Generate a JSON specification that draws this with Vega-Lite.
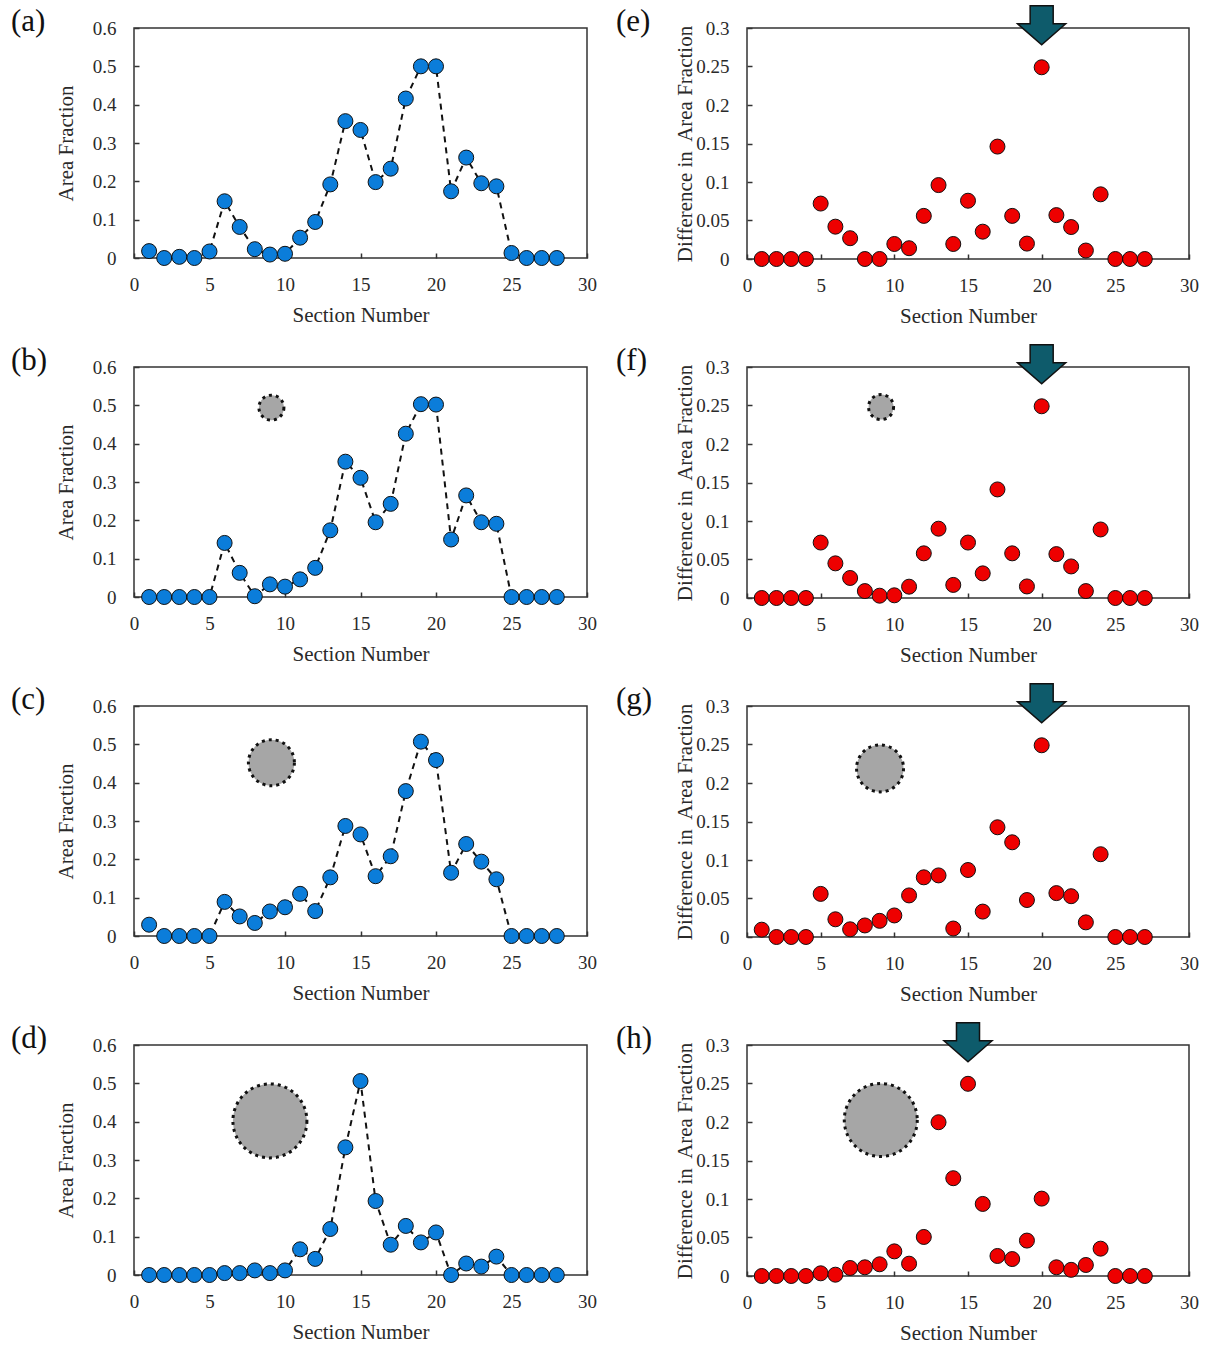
{
  "$schema": "https://vega.github.io/schema/vega-lite/v6.json",
  "padding": {"left": 10, "top": 2, "right": 0, "bottom": 0},
  "background": "white",
  "config": {
    "font": "Liberation Serif",
    "view": {"stroke": "#333", "strokeWidth": 1.5},
    "axis": {"domain": false, "grid": false, "labelFlush": false, "tickColor": "#333", "tickWidth": 1.5, "tickSize": -5, "labelFont": "Liberation Serif", "labelFontSize": 19, "labelColor": "#2a2a2a", "titleFont": "Liberation Serif", "titleFontSize": 21, "titleFontWeight": "normal", "titleColor": "#2a2a2a"},
    "axisX": {"labelPadding": 22, "titlePadding": 10},
    "axisY": {"labelPadding": 23},
    "title": {"font": "Liberation Serif", "fontSize": 31, "fontWeight": "normal", "color": "#111", "anchor": "start", "frame": "group", "baseline": "alphabetic", "offset": 0}
  },
  "datasets": {
    "a": [{"section":1,"fraction":0.018},{"section":2,"fraction":0},{"section":3,"fraction":0.003},{"section":4,"fraction":0},{"section":5,"fraction":0.017},{"section":6,"fraction":0.148},{"section":7,"fraction":0.081},{"section":8,"fraction":0.023},{"section":9,"fraction":0.009},{"section":10,"fraction":0.011},{"section":11,"fraction":0.053},{"section":12,"fraction":0.094},{"section":13,"fraction":0.192},{"section":14,"fraction":0.357},{"section":15,"fraction":0.334},{"section":16,"fraction":0.198},{"section":17,"fraction":0.233},{"section":18,"fraction":0.416},{"section":19,"fraction":0.5},{"section":20,"fraction":0.5},{"section":21,"fraction":0.174},{"section":22,"fraction":0.262},{"section":23,"fraction":0.195},{"section":24,"fraction":0.187},{"section":25,"fraction":0.013},{"section":26,"fraction":0},{"section":27,"fraction":0},{"section":28,"fraction":0}],
    "b": [{"section":1,"fraction":0},{"section":2,"fraction":0},{"section":3,"fraction":0},{"section":4,"fraction":0},{"section":5,"fraction":0},{"section":6,"fraction":0.141},{"section":7,"fraction":0.063},{"section":8,"fraction":0.002},{"section":9,"fraction":0.033},{"section":10,"fraction":0.027},{"section":11,"fraction":0.046},{"section":12,"fraction":0.076},{"section":13,"fraction":0.174},{"section":14,"fraction":0.353},{"section":15,"fraction":0.311},{"section":16,"fraction":0.195},{"section":17,"fraction":0.243},{"section":18,"fraction":0.426},{"section":19,"fraction":0.503},{"section":20,"fraction":0.502},{"section":21,"fraction":0.15},{"section":22,"fraction":0.265},{"section":23,"fraction":0.195},{"section":24,"fraction":0.191},{"section":25,"fraction":0},{"section":26,"fraction":0},{"section":27,"fraction":0},{"section":28,"fraction":0}],
    "c": [{"section":1,"fraction":0.0295},{"section":2,"fraction":0},{"section":3,"fraction":0},{"section":4,"fraction":0},{"section":5,"fraction":0},{"section":6,"fraction":0.089},{"section":7,"fraction":0.051},{"section":8,"fraction":0.034},{"section":9,"fraction":0.064},{"section":10,"fraction":0.075},{"section":11,"fraction":0.11},{"section":12,"fraction":0.065},{"section":13,"fraction":0.153},{"section":14,"fraction":0.287},{"section":15,"fraction":0.265},{"section":16,"fraction":0.156},{"section":17,"fraction":0.208},{"section":18,"fraction":0.378},{"section":19,"fraction":0.507},{"section":20,"fraction":0.459},{"section":21,"fraction":0.165},{"section":22,"fraction":0.24},{"section":23,"fraction":0.194},{"section":24,"fraction":0.148},{"section":25,"fraction":0},{"section":26,"fraction":0},{"section":27,"fraction":0},{"section":28,"fraction":0}],
    "d": [{"section":1,"fraction":0},{"section":2,"fraction":0},{"section":3,"fraction":0},{"section":4,"fraction":0},{"section":5,"fraction":0},{"section":6,"fraction":0.005},{"section":7,"fraction":0.005},{"section":8,"fraction":0.012},{"section":9,"fraction":0.005},{"section":10,"fraction":0.012},{"section":11,"fraction":0.067},{"section":12,"fraction":0.042},{"section":13,"fraction":0.12},{"section":14,"fraction":0.333},{"section":15,"fraction":0.506},{"section":16,"fraction":0.193},{"section":17,"fraction":0.079},{"section":18,"fraction":0.128},{"section":19,"fraction":0.085},{"section":20,"fraction":0.111},{"section":21,"fraction":0},{"section":22,"fraction":0.03},{"section":23,"fraction":0.022},{"section":24,"fraction":0.048},{"section":25,"fraction":0},{"section":26,"fraction":0},{"section":27,"fraction":0},{"section":28,"fraction":0}],
    "e": [{"section":1,"difference":0},{"section":2,"difference":0},{"section":3,"difference":0},{"section":4,"difference":0},{"section":5,"difference":0.072},{"section":6,"difference":0.042},{"section":7,"difference":0.027},{"section":8,"difference":0},{"section":9,"difference":0},{"section":10,"difference":0.0195},{"section":11,"difference":0.014},{"section":12,"difference":0.056},{"section":13,"difference":0.096},{"section":14,"difference":0.0195},{"section":15,"difference":0.0757},{"section":16,"difference":0.0355},{"section":17,"difference":0.146},{"section":18,"difference":0.056},{"section":19,"difference":0.02},{"section":20,"difference":0.249},{"section":21,"difference":0.057},{"section":22,"difference":0.0415},{"section":23,"difference":0.011},{"section":24,"difference":0.084},{"section":25,"difference":0},{"section":26,"difference":0},{"section":27,"difference":0}],
    "f": [{"section":1,"difference":0},{"section":2,"difference":0},{"section":3,"difference":0},{"section":4,"difference":0},{"section":5,"difference":0.072},{"section":6,"difference":0.045},{"section":7,"difference":0.026},{"section":8,"difference":0.009},{"section":9,"difference":0.003},{"section":10,"difference":0.0035},{"section":11,"difference":0.0147},{"section":12,"difference":0.058},{"section":13,"difference":0.09},{"section":14,"difference":0.017},{"section":15,"difference":0.072},{"section":16,"difference":0.032},{"section":17,"difference":0.141},{"section":18,"difference":0.058},{"section":19,"difference":0.015},{"section":20,"difference":0.249},{"section":21,"difference":0.057},{"section":22,"difference":0.041},{"section":23,"difference":0.009},{"section":24,"difference":0.089},{"section":25,"difference":0},{"section":26,"difference":0},{"section":27,"difference":0}],
    "g": [{"section":1,"difference":0.0095},{"section":2,"difference":0},{"section":3,"difference":0},{"section":4,"difference":0},{"section":5,"difference":0.056},{"section":6,"difference":0.023},{"section":7,"difference":0.01},{"section":8,"difference":0.015},{"section":9,"difference":0.021},{"section":10,"difference":0.028},{"section":11,"difference":0.054},{"section":12,"difference":0.0775},{"section":13,"difference":0.08},{"section":14,"difference":0.011},{"section":15,"difference":0.087},{"section":16,"difference":0.033},{"section":17,"difference":0.1425},{"section":18,"difference":0.123},{"section":19,"difference":0.048},{"section":20,"difference":0.249},{"section":21,"difference":0.057},{"section":22,"difference":0.053},{"section":23,"difference":0.019},{"section":24,"difference":0.1075},{"section":25,"difference":0},{"section":26,"difference":0},{"section":27,"difference":0}],
    "h": [{"section":1,"difference":0},{"section":2,"difference":0},{"section":3,"difference":0},{"section":4,"difference":0},{"section":5,"difference":0.0035},{"section":6,"difference":0.0017},{"section":7,"difference":0.0104},{"section":8,"difference":0.0113},{"section":9,"difference":0.0152},{"section":10,"difference":0.032},{"section":11,"difference":0.016},{"section":12,"difference":0.0507},{"section":13,"difference":0.1997},{"section":14,"difference":0.127},{"section":15,"difference":0.2496},{"section":16,"difference":0.0936},{"section":17,"difference":0.026},{"section":18,"difference":0.022},{"section":19,"difference":0.046},{"section":20,"difference":0.1005},{"section":21,"difference":0.0113},{"section":22,"difference":0.008},{"section":23,"difference":0.0143},{"section":24,"difference":0.0355},{"section":25,"difference":0},{"section":26,"difference":0},{"section":27,"difference":0}],
    "defects": [{"panel":"b","section":9.1,"value":0.494},{"panel":"c","section":9.1,"value":0.452},{"panel":"d","section":9.0,"value":0.402},{"panel":"f","section":9.1,"value":0.248},{"panel":"g","section":9.03,"value":0.219},{"panel":"h","section":9.08,"value":0.2026}],
    "arrows": [{"panel":"e","section":20,"value":0.3035},{"panel":"f","section":20,"value":0.3035},{"panel":"g","section":20,"value":0.3035},{"panel":"h","section":15,"value":0.3035}]
  },
  "columns": 2,
  "spacing": {"row": 108, "column": 160},
  "bounds": "flush",
  "align": "each",
  "concat": [
      {"width": 453, "height": 230, "title": {"text": "(a)", "dx": -123, "dy": 23},
       "encoding": {"x": {"field": "section", "type": "quantitative", "scale": {"domain": [0, 30], "nice": false}, "axis": {"values": [0,5,10,15,20,25,30], "title": "Section Number"}},
                    "y": {"field": "fraction", "type": "quantitative", "scale": {"domain": [0, 0.6], "nice": false}, "axis": {"values": [0,0.1,0.2,0.3,0.4,0.5,0.6], "format": "~g", "title": "Area Fraction", "titlePadding": 16}}},
       "layer": [
         {"data": {"name": "a"}, "mark": {"type": "line", "color": "#111", "strokeWidth": 2, "strokeDash": [6, 5]}},
         {"data": {"name": "a"}, "mark": {"type": "circle", "size": 225, "fill": "#0b7dda", "stroke": "#111", "strokeWidth": 1, "opacity": 1}}
       ]},
      {"width": 442, "height": 231, "title": {"text": "(e)", "dx": -131, "dy": 39},
       "encoding": {"x": {"field": "section", "type": "quantitative", "scale": {"domain": [0, 30], "nice": false}, "axis": {"values": [0,5,10,15,20,25,30], "title": "Section Number"}},
                    "y": {"field": "difference", "type": "quantitative", "scale": {"domain": [0, 0.3], "nice": false}, "axis": {"values": [0,0.05,0.1,0.15,0.2,0.25,0.3], "format": "~g", "title": "Difference in\u00a0 Area Fraction", "titlePadding": 0}}},
       "layer": [
         {"data": {"name": "e"}, "mark": {"type": "circle", "size": 225, "fill": "#ee0000", "stroke": "#111", "strokeWidth": 1, "opacity": 1}},
         {"data": {"name": "arrows"}, "transform": [{"filter": "datum.panel === 'e'"}], "mark": {"type": "point", "shape": "M -0.48 -0.81 L 0.48 -0.81 L 0.48 -0.06 L 1 -0.06 L 0 0.81 L -1 -0.06 L -0.48 -0.06 Z", "size": 2304, "filled": true, "fill": "#0e5b6b", "stroke": "#111", "strokeWidth": 1.5, "opacity": 1},
          "encoding": {"y": {"field": "value", "type": "quantitative"}}}
       ]},
      {"width": 453, "height": 230, "title": {"text": "(b)", "dx": -123, "dy": 23},
       "encoding": {"x": {"field": "section", "type": "quantitative", "scale": {"domain": [0, 30], "nice": false}, "axis": {"values": [0,5,10,15,20,25,30], "title": "Section Number"}},
                    "y": {"field": "fraction", "type": "quantitative", "scale": {"domain": [0, 0.6], "nice": false}, "axis": {"values": [0,0.1,0.2,0.3,0.4,0.5,0.6], "format": "~g", "title": "Area Fraction", "titlePadding": 16}}},
       "layer": [
         {"data": {"name": "defects"}, "transform": [{"filter": "datum.panel === 'b'"}], "mark": {"type": "circle", "size": 625, "fill": "#a6a6a6", "stroke": "#111", "strokeWidth": 3, "strokeDash": [3, 4], "opacity": 1},
          "encoding": {"y": {"field": "value", "type": "quantitative"}}},
         {"data": {"name": "b"}, "mark": {"type": "line", "color": "#111", "strokeWidth": 2, "strokeDash": [6, 5]}},
         {"data": {"name": "b"}, "mark": {"type": "circle", "size": 225, "fill": "#0b7dda", "stroke": "#111", "strokeWidth": 1, "opacity": 1}}
       ]},
      {"width": 442, "height": 231, "title": {"text": "(f)", "dx": -131, "dy": 39},
       "encoding": {"x": {"field": "section", "type": "quantitative", "scale": {"domain": [0, 30], "nice": false}, "axis": {"values": [0,5,10,15,20,25,30], "title": "Section Number"}},
                    "y": {"field": "difference", "type": "quantitative", "scale": {"domain": [0, 0.3], "nice": false}, "axis": {"values": [0,0.05,0.1,0.15,0.2,0.25,0.3], "format": "~g", "title": "Difference in\u00a0 Area Fraction", "titlePadding": 0}}},
       "layer": [
         {"data": {"name": "defects"}, "transform": [{"filter": "datum.panel === 'f'"}], "mark": {"type": "circle", "size": 625, "fill": "#a6a6a6", "stroke": "#111", "strokeWidth": 3, "strokeDash": [3, 4], "opacity": 1},
          "encoding": {"y": {"field": "value", "type": "quantitative"}}},
         {"data": {"name": "f"}, "mark": {"type": "circle", "size": 225, "fill": "#ee0000", "stroke": "#111", "strokeWidth": 1, "opacity": 1}},
         {"data": {"name": "arrows"}, "transform": [{"filter": "datum.panel === 'f'"}], "mark": {"type": "point", "shape": "M -0.48 -0.81 L 0.48 -0.81 L 0.48 -0.06 L 1 -0.06 L 0 0.81 L -1 -0.06 L -0.48 -0.06 Z", "size": 2304, "filled": true, "fill": "#0e5b6b", "stroke": "#111", "strokeWidth": 1.5, "opacity": 1},
          "encoding": {"y": {"field": "value", "type": "quantitative"}}}
       ]},
      {"width": 453, "height": 230, "title": {"text": "(c)", "dx": -123, "dy": 23},
       "encoding": {"x": {"field": "section", "type": "quantitative", "scale": {"domain": [0, 30], "nice": false}, "axis": {"values": [0,5,10,15,20,25,30], "title": "Section Number"}},
                    "y": {"field": "fraction", "type": "quantitative", "scale": {"domain": [0, 0.6], "nice": false}, "axis": {"values": [0,0.1,0.2,0.3,0.4,0.5,0.6], "format": "~g", "title": "Area Fraction", "titlePadding": 16}}},
       "layer": [
         {"data": {"name": "defects"}, "transform": [{"filter": "datum.panel === 'c'"}], "mark": {"type": "circle", "size": 2116, "fill": "#a6a6a6", "stroke": "#111", "strokeWidth": 3, "strokeDash": [3, 4], "opacity": 1},
          "encoding": {"y": {"field": "value", "type": "quantitative"}}},
         {"data": {"name": "c"}, "mark": {"type": "line", "color": "#111", "strokeWidth": 2, "strokeDash": [6, 5]}},
         {"data": {"name": "c"}, "mark": {"type": "circle", "size": 225, "fill": "#0b7dda", "stroke": "#111", "strokeWidth": 1, "opacity": 1}}
       ]},
      {"width": 442, "height": 231, "title": {"text": "(g)", "dx": -131, "dy": 39},
       "encoding": {"x": {"field": "section", "type": "quantitative", "scale": {"domain": [0, 30], "nice": false}, "axis": {"values": [0,5,10,15,20,25,30], "title": "Section Number"}},
                    "y": {"field": "difference", "type": "quantitative", "scale": {"domain": [0, 0.3], "nice": false}, "axis": {"values": [0,0.05,0.1,0.15,0.2,0.25,0.3], "format": "~g", "title": "Difference in\u00a0 Area Fraction", "titlePadding": 0}}},
       "layer": [
         {"data": {"name": "defects"}, "transform": [{"filter": "datum.panel === 'g'"}], "mark": {"type": "circle", "size": 2209, "fill": "#a6a6a6", "stroke": "#111", "strokeWidth": 3, "strokeDash": [3, 4], "opacity": 1},
          "encoding": {"y": {"field": "value", "type": "quantitative"}}},
         {"data": {"name": "g"}, "mark": {"type": "circle", "size": 225, "fill": "#ee0000", "stroke": "#111", "strokeWidth": 1, "opacity": 1}},
         {"data": {"name": "arrows"}, "transform": [{"filter": "datum.panel === 'g'"}], "mark": {"type": "point", "shape": "M -0.48 -0.81 L 0.48 -0.81 L 0.48 -0.06 L 1 -0.06 L 0 0.81 L -1 -0.06 L -0.48 -0.06 Z", "size": 2304, "filled": true, "fill": "#0e5b6b", "stroke": "#111", "strokeWidth": 1.5, "opacity": 1},
          "encoding": {"y": {"field": "value", "type": "quantitative"}}}
       ]},
      {"width": 453, "height": 230, "title": {"text": "(d)", "dx": -123, "dy": 23},
       "encoding": {"x": {"field": "section", "type": "quantitative", "scale": {"domain": [0, 30], "nice": false}, "axis": {"values": [0,5,10,15,20,25,30], "title": "Section Number"}},
                    "y": {"field": "fraction", "type": "quantitative", "scale": {"domain": [0, 0.6], "nice": false}, "axis": {"values": [0,0.1,0.2,0.3,0.4,0.5,0.6], "format": "~g", "title": "Area Fraction", "titlePadding": 16}}},
       "layer": [
         {"data": {"name": "defects"}, "transform": [{"filter": "datum.panel === 'd'"}], "mark": {"type": "circle", "size": 5476, "fill": "#a6a6a6", "stroke": "#111", "strokeWidth": 3, "strokeDash": [3, 4], "opacity": 1},
          "encoding": {"y": {"field": "value", "type": "quantitative"}}},
         {"data": {"name": "d"}, "mark": {"type": "line", "color": "#111", "strokeWidth": 2, "strokeDash": [6, 5]}},
         {"data": {"name": "d"}, "mark": {"type": "circle", "size": 225, "fill": "#0b7dda", "stroke": "#111", "strokeWidth": 1, "opacity": 1}}
       ]},
      {"width": 442, "height": 231, "title": {"text": "(h)", "dx": -131, "dy": 39},
       "encoding": {"x": {"field": "section", "type": "quantitative", "scale": {"domain": [0, 30], "nice": false}, "axis": {"values": [0,5,10,15,20,25,30], "title": "Section Number"}},
                    "y": {"field": "difference", "type": "quantitative", "scale": {"domain": [0, 0.3], "nice": false}, "axis": {"values": [0,0.05,0.1,0.15,0.2,0.25,0.3], "format": "~g", "title": "Difference in\u00a0 Area Fraction", "titlePadding": 0}}},
       "layer": [
         {"data": {"name": "defects"}, "transform": [{"filter": "datum.panel === 'h'"}], "mark": {"type": "circle", "size": 5329, "fill": "#a6a6a6", "stroke": "#111", "strokeWidth": 3, "strokeDash": [3, 4], "opacity": 1},
          "encoding": {"y": {"field": "value", "type": "quantitative"}}},
         {"data": {"name": "h"}, "mark": {"type": "circle", "size": 225, "fill": "#ee0000", "stroke": "#111", "strokeWidth": 1, "opacity": 1}},
         {"data": {"name": "arrows"}, "transform": [{"filter": "datum.panel === 'h'"}], "mark": {"type": "point", "shape": "M -0.48 -0.81 L 0.48 -0.81 L 0.48 -0.06 L 1 -0.06 L 0 0.81 L -1 -0.06 L -0.48 -0.06 Z", "size": 2304, "filled": true, "fill": "#0e5b6b", "stroke": "#111", "strokeWidth": 1.5, "opacity": 1},
          "encoding": {"y": {"field": "value", "type": "quantitative"}}}
       ]}
  ]
}
